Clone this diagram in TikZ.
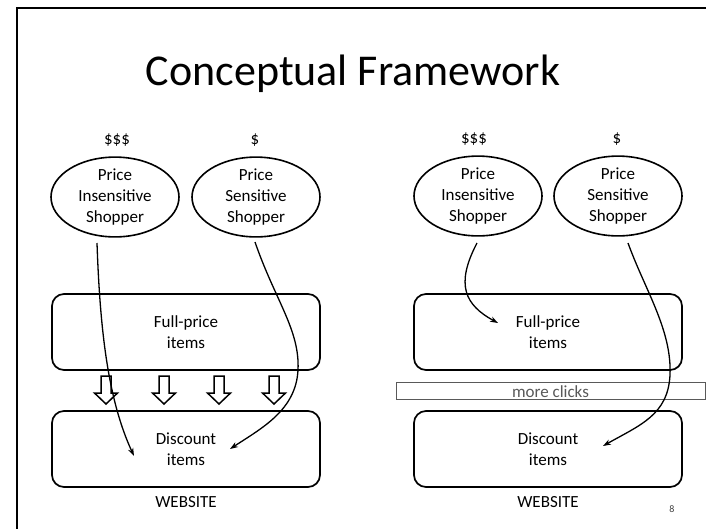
\documentclass[tikz,border=0pt]{standalone}
\usepackage{fontspec}
\setmainfont{Carlito}
\usetikzlibrary{shapes.geometric,arrows.meta}

\tikzset{
  body/.style={font=\fontsize{17}{21}\selectfont, align=center},
  shopper/.style={body, draw, ellipse, line width=1.6pt, inner sep=0pt,
    minimum width=128pt, minimum height=67pt},
  itembox/.style={body, draw, rectangle, rounded corners=12pt, line width=1.7pt,
    minimum width=268pt, minimum height=76pt},
  price/.style={body},
  flow/.style={line width=1.3pt, -{Stealth[length=8pt,width=5.5pt]}},
  blockarrow/.style={draw, line width=1.5pt, fill=white},
}

\begin{document}
\begin{tikzpicture}[x=1pt, y=-1pt]
  \useasboundingbox (0,0) rectangle (706,528);

  % slide frame
  \draw[line width=2pt] (17,540) -- (17,8) -- (720,8);

  % title
  \node (title) at (353,74) {\fontsize{44}{50}\selectfont Conceptual Framework};

  % ---------- left panel ----------
  \node[price] (d1) at (117,140) {\$\$\$};
  \node[price] (d2) at (255,140) {\$};
  \node[shopper] (ins1) at (115,197) {Price\\Insensitive\\Shopper};
  \node[shopper] (sen1) at (256,197) {Price\\Sensitive\\Shopper};

  \node[itembox] (full1) at (186,332) {Full-price\\items};
  \node[itembox] (disc1) at (186,449) {Discount\\items};
  \node[body] (web1) at (186,502) {WEBSITE};

  % block arrows between the two item boxes
  \foreach \x in {106,164,219,274}
    \draw[blockarrow] (\x-5,376) -- (\x+5,376) -- (\x+5,393) -- (\x+11.5,393)
      -- (\x,404) -- (\x-11.5,393) -- (\x-5,393) -- cycle;

  \coordinate (s1) at (97,243);
  \coordinate (t1) at (134,456);
  \coordinate (s2) at (255,242);
  \coordinate (t2) at (230,449);
  \draw[flow] (s1) .. controls (100,330) and (108,400) .. (t1);
  \draw[flow] (s2) .. controls (275,300) and (300,330) .. (298,370)
                   .. controls (296,410) and (262,428) .. (t2);

  % ---------- right panel ----------
  \node[price] (d3) at (474,139) {\$\$\$};
  \node[price] (d4) at (617,139) {\$};
  \node[shopper] (ins2) at (478,196) {Price\\Insensitive\\Shopper};
  \node[shopper] (sen2) at (618,196) {Price\\Sensitive\\Shopper};

  \node[itembox] (full2) at (548,332) {Full-price\\items};
  \node[draw=black!65, line width=0.8pt, rectangle, inner sep=0pt,
        minimum width=309pt, minimum height=17pt,
        text height=14pt, text depth=0pt,
        font=\fontsize{17}{21}\selectfont, text=black!65] (clicks) at (550.5,390.5) {more clicks};
  \node[itembox] (disc2) at (548,449) {Discount\\items};
  \node[body] (web2) at (548,502) {WEBSITE};

  \coordinate (s3) at (477,243);
  \coordinate (t3) at (498,323);
  \coordinate (s4) at (628,243);
  \coordinate (t4) at (603,446);
  \draw[flow] (s3) .. controls (455,285) and (465,305) .. (t3);
  \draw[flow] (s4) .. controls (645,290) and (672,330) .. (670,375)
                   .. controls (668,415) and (640,425) .. (t4);

  % slide number
  \node[font=\fontsize{10}{12}\selectfont, text=black!75] (num) at (672,509) {8};
\end{tikzpicture}
\end{document}
